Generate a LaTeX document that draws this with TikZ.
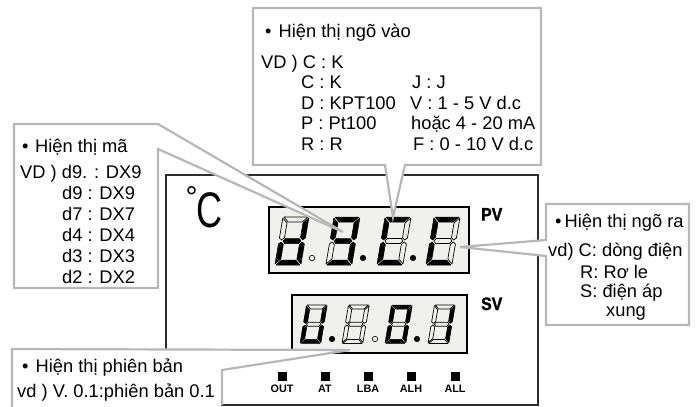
\documentclass[tikz,border=0pt]{standalone}
\usepackage{fontspec}
\setmainfont{Liberation Sans}
\newfontfamily\heavyfont[FakeBold=1.5]{Liberation Sans Bold}
\usepackage{xcolor}
\definecolor{calloutgray}{RGB}{183,183,183}
\definecolor{panelline}{RGB}{45,45,45}
\definecolor{displayfill}{RGB}{240,240,236}
\usetikzlibrary{positioning}
\tikzset{
  callout/.style={draw=calloutgray,fill=white,line width=2.2pt,line join=miter},
  lbl/.style={anchor=base west,inner sep=0pt,font=\fontsize{18.3}{20}\selectfont},
  displaybox/.style={draw=black,fill=displayfill,line width=1.4pt,inner sep=0pt},
  segon/.style={draw=black,fill=black,line width=0.5pt,line join=round},
  segoff/.style={draw=black,fill=none,line width=0.7pt,line join=round},
  dotfull/.style={circle,draw=black,fill=black,line width=0.6pt,inner sep=0pt,minimum size=5.4pt},
  dotopen/.style={circle,draw=black,fill=displayfill,line width=0.6pt,inner sep=0pt,minimum size=5.4pt},
  led/.style={draw=black,fill=black,inner sep=0pt,minimum size=8pt},
  ledlbl/.style={inner sep=0pt,font=\fontsize{10.8}{12}\bfseries\selectfont},
  rangelbl/.style={anchor=base west,inner sep=0pt,font=\fontsize{18}{18}\heavyfont,xscale=0.88}
}
\newcommand{\sevenseg}[9]{%
  \begin{scope}[cm={1,0,0.17,1,(#1)},scale=#2]
    \draw[seg#3] (1,0) -- (25,0) -- (20,5) -- (6,5) -- cycle;
    \draw[seg#4] (26,1) -- (26,21) -- (23.5,23) -- (21,20.5) -- (21,6) -- cycle;
    \draw[seg#5] (26,47) -- (26,27) -- (23.5,25) -- (21,27.5) -- (21,42) -- cycle;
    \draw[seg#6] (1,48) -- (25,48) -- (20,43) -- (6,43) -- cycle;
    \draw[seg#7] (0,47) -- (0,27) -- (2.5,25) -- (5,27.5) -- (5,42) -- cycle;
    \draw[seg#8] (0,1) -- (0,21) -- (2.5,23) -- (5,20.5) -- (5,6) -- cycle;
    \draw[seg#9] (4,24) -- (6,21.5) -- (20,21.5) -- (22,24) -- (20,26.5) -- (6,26.5) -- cycle;
  \end{scope}}

\begin{document}
\begin{tikzpicture}[x=1pt,y=-1pt]
  \useasboundingbox (0,0) rectangle (697,407);

  \node[draw=panelline,line width=1.5pt,minimum width=372pt,minimum height=230pt,inner sep=0pt]
        (panel) at (352,290) {};
  \node[displaybox,minimum width=200pt,minimum height=66pt] (pvbox) at (369,240) {};
  \node[displaybox,minimum width=175pt,minimum height=58pt] (svbox) at (379.5,324) {};

  \sevenseg{283,217}{1}{off}{on}{on}{on}{on}{off}{on}
  \sevenseg{334,217}{1}{on}{on}{on}{on}{off}{on}{on}
  \sevenseg{385,217}{1}{on}{off}{off}{on}{on}{on}{off}
  \sevenseg{434,217}{1}{on}{off}{off}{on}{on}{on}{off}
  \node[dotopen] (pvdot1) at (312,258) {};
  \node[dotfull] (pvdot2) at (363,258) {};
  \node[dotfull] (pvdot3) at (413,258) {};

  \sevenseg{306.5,305}{0.8}{off}{on}{on}{on}{on}{on}{off}
  \sevenseg{348.5,305}{0.8}{off}{off}{off}{off}{off}{off}{off}
  \sevenseg{391.5,305}{0.8}{on}{on}{on}{on}{on}{on}{off}
  \sevenseg{434.5,305}{0.8}{off}{on}{on}{off}{off}{off}{off}
  \node[dotfull] (svdot1) at (332,339) {};
  \node[dotopen] (svdot2) at (375,339) {};
  \node[dotfull] (svdot3) at (417,339) {};

  \node[rangelbl] (pv) at (481,220.5) {PV};
  \node[rangelbl] (sv) at (481,310) {SV};

  \node[inner sep=0pt,font=\fontsize{50}{50}\selectfont,xscale=0.72] (unitc) at (209,210) {C};
  \node[inner sep=0pt,font=\fontsize{30}{30}\selectfont] (unitdeg) at (191.5,197) {°};

  \node[led] (led1) at (282,376) {};
  \node[led] (led2) at (325,376) {};
  \node[led] (led3) at (368,376) {};
  \node[led] (led4) at (411,376) {};
  \node[led] (led5) at (455,376) {};
  \node[ledlbl,below=5pt of led1] (out) {OUT};
  \node[ledlbl,below=5pt of led2] (at) {AT};
  \node[ledlbl,below=5pt of led3] (lba) {LBA};
  \node[ledlbl,below=5pt of led4] (alh) {ALH};
  \node[ledlbl,below=5pt of led5] (all) {ALL};

  \coordinate (tiptop) at (393,217);
  \coordinate (tipleft) at (343,232);
  \coordinate (tipright) at (460,247);
  \coordinate (tipbottom) at (350,350);

  \draw[callout] (253,8) -- (541,8) -- (541,165) -- (405,165) -- (tiptop) -- (385,165)
        -- (253,165) -- cycle;
  \draw[callout] (14,124) -- (158,124) -- (tipleft) -- (158,149) -- (158,288) -- (14,288) -- cycle;
  \draw[callout] (546,204) -- (689,204) -- (689,325) -- (546,325) -- (546,256) -- (tipright)
        -- (546,240) -- cycle;
  \draw[callout] (12,408) -- (12,349) -- (tipbottom) -- (222,370) -- (222,405);
  \fill[white] (13,405) rectangle (221,408);

  \node[lbl] (intitle) at (265,37) {•\kern 7pt Hiện thị ngõ vào};
  \node[lbl] (inex) at (261,68) {VD ) C : K};
  \node[lbl] (inc) at (301,88) {C : K};
  \node[lbl] (ind) at (301,109) {D : KPT100};
  \node[lbl] (inp) at (301,129) {P : Pt100};
  \node[lbl] (inr) at (301,150) {R : R};
  \node[lbl] (inj) at (412,88) {J : J};
  \node[lbl] (inv) at (410,109) {V : 1 - 5 V d.c};
  \node[lbl] (inma) at (411,129) {hoặc 4 - 20 mA};
  \node[lbl] (inf) at (413,150) {F : 0 - 10 V d.c};

  \node[lbl] (codetitle) at (22,152) {•\kern 6.5pt Hiện thị mã};
  \node[lbl] (codeex) at (20,178) {VD ) d9. : DX9};
  \node[lbl] (coded9) at (62,199) {d9 : DX9};
  \node[lbl] (coded7) at (62,220) {d7 : DX7};
  \node[lbl] (coded4) at (62,241) {d4 : DX4};
  \node[lbl] (coded3) at (62,262) {d3 : DX3};
  \node[lbl] (coded2) at (62,283) {d2 : DX2};

  \node[lbl] (outtitle) at (555,227) {•\kern 3pt Hiện thị ngõ ra};
  \node[lbl] (outc) at (548,256) {vd) C: dòng điện};
  \node[lbl] (outr) at (580,278) {R: Rơ le};
  \node[lbl] (outs) at (580,297) {S: điện áp};
  \node[lbl] (outx) at (606,316) {xung};

  \node[lbl] (vertitle) at (22,372) {•\kern 7pt Hiện thị phiên bản};
  \node[lbl] (verex) at (17,397) {vd ) V. 0.1:phiên bản 0.1};
\end{tikzpicture}
\end{document}
